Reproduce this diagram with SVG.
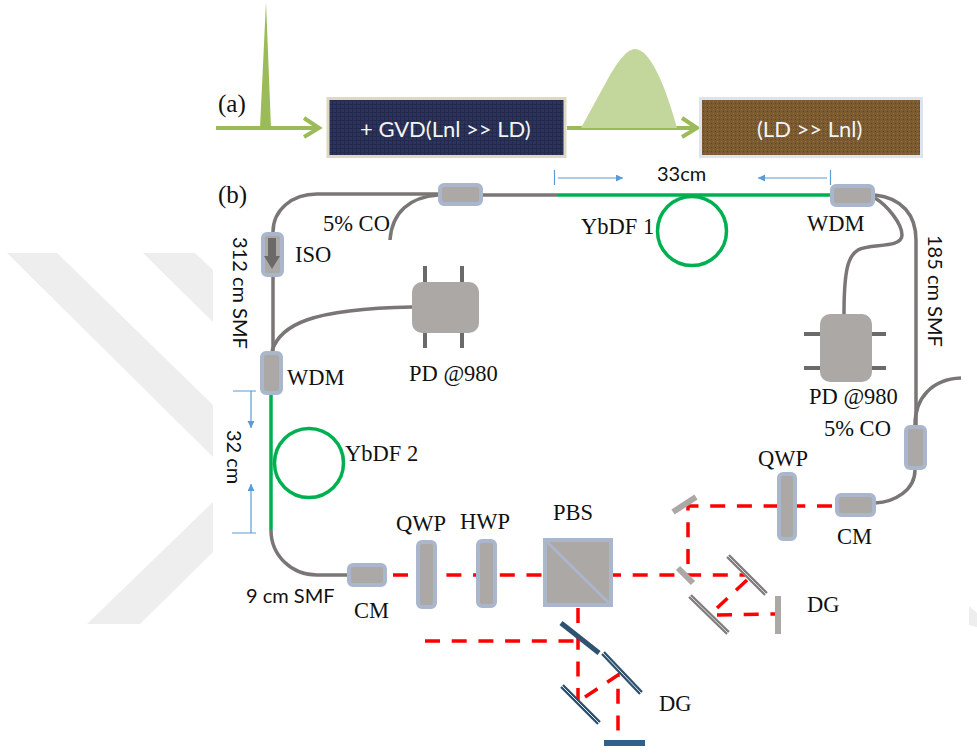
<svg xmlns="http://www.w3.org/2000/svg" width="977" height="753" viewBox="0 0 977 753">
<style>
.t{font-family:"Liberation Serif",serif;font-size:22.5px;fill:#111}
.l{font-family:"Liberation Serif",serif;font-size:25px;fill:#111}
.s{font-family:"Lato","Liberation Sans",sans-serif;font-size:20px;fill:#111}
.w{font-family:"Lato","Liberation Sans",sans-serif;font-size:22px;fill:#f4f4f4}
.f{fill:none;stroke:#7b7676;stroke-width:3.5}
.g{fill:none;stroke:#00b050;stroke-width:3.5}
.r{fill:none;stroke:#fe0000;stroke-width:3.5;stroke-dasharray:15 11.700}
.b{fill:none;stroke:#5b9bd5;stroke-width:1.2}
.c{fill:#aca8a6;stroke:#a9b6cc;stroke-width:4}
.p{fill:none;stroke:#6c6a69;stroke-width:4}
.m{fill:#aca8a6}
.d{stroke:#2f5270;stroke-width:5;fill:none}
.a{fill:none;stroke:#9bbb59;stroke-width:4}
</style>
<defs>
<marker id="ba" markerWidth="8" markerHeight="8" refX="7" refY="3.500" orient="auto" markerUnits="userSpaceOnUse"><path d="M0 0L7 3.500L0 7z" fill="#5b9bd5"/></marker>
<pattern id="navy" width="4" height="4" patternUnits="userSpaceOnUse"><rect width="4" height="4" fill="#2c335c"/><path d="M0 .5H4M.5 0V4" stroke="#232a4c" stroke-width="1"/></pattern>
<pattern id="brown" width="4" height="4" patternUnits="userSpaceOnUse"><rect width="4" height="4" fill="#7a5a30"/><rect width="1" height="1" x="1" y="1" fill="#a0752f"/><rect width="1" height="1" x="3" y="3" fill="#5f4526"/></pattern>
</defs>
<g id="watermark" fill="#eeeeee">
<path d="M7 253L57 253L213 405V457z"/>
<path d="M143 253H195L213 270V322z"/>
<path d="M87 624H140L213 552V502z"/>
<path d="M969 606L977 613V627L969 625z"/>
</g>
<g id="connectors">
<path class="a" d="M216 128H318M304 118L319 128L304 137M567 128H697M682 118L697 128L682 137"/>
<path class="f" d="M438 194H317C292 194 273 210 273 232"/>
<path class="f" d="M438 195C410 197 392 212 390 240"/>
<path class="f" d="M483 195H558"/>
<path class="g" d="M558 195H830"/>
<circle class="g" cx="692" cy="231" r="34.500"/>
<path class="f" d="M875 195C902 198 916 215 916 240V425"/>
<path class="f" d="M875 198C888 206 902 224 902 235C902 249 870 243 858 250C848 256 844 270 844 315"/>
<path class="f" d="M915 425C915 398 932 379 961 378"/>
<path class="f" d="M915 470C915 490 895 502 875 503"/>
<path class="f" d="M273 276V351"/>
<path class="f" d="M272 351C280 325 310 309 412 307"/>
<path class="g" d="M271 395V530"/>
<circle class="g" cx="309" cy="463" r="34.500"/>
<path class="f" d="M271 530C271 556 292 575 317 575H347"/>
<path class="r" d="M393 575H543M606 575H745"/>
<path class="r" d="M832 506H688V575"/>
<path class="r" d="M747 580L717 608M717 615L775 614"/>
<path class="r" d="M578 608V700M425 641H578M585 697L618 675V742"/>
<path class="b" d="M554.500 170V185M830.500 170V185M233 391H256M232 533H256"/>
<path class="b" marker-end="url(#ba)" d="M558 178H623"/>
<path class="b" marker-end="url(#ba)" d="M827 178H758"/>
<path class="b" marker-end="url(#ba)" d="M251 391V428"/>
<path class="b" marker-end="url(#ba)" d="M251 533V484"/>
</g>
<g id="pulse1"><path fill="#9bbb59" d="M266 2L271 128H260z"/></g>
<g id="pulse2"><path fill="#c3d69b" d="M581 128L610 75C620 58 628 49 635 49C650 49 665 85 677 128z"/></g>
<g id="gvd"><rect x="328" y="98.500" width="237" height="58" fill="url(#navy)" stroke="#ddd8c2" stroke-width="3"/><text class="w" x="360" y="137">+ GVD(Lnl &gt;&gt; LD)</text></g>
<g id="ld"><rect x="700.500" y="98.500" width="221" height="58" fill="url(#brown)" stroke="#dce4f0" stroke-width="3"/><text class="w" x="757" y="137">(LD &gt;&gt; Lnl)</text></g>
<g id="co1"><rect class="c" x="440" y="185" width="41" height="19" rx="4"/></g>
<g id="wdm1"><rect class="c" x="832" y="186" width="41" height="19" rx="4"/></g>
<g id="iso"><rect class="c" x="263" y="234" width="19" height="41" rx="4"/><path fill="#6c6a69" d="M268 238H276V256H280L272 269L264 256H268z"/></g>
<g id="wdm2"><rect class="c" x="262" y="353" width="19" height="40" rx="4"/></g>
<g id="pd1"><path class="p" d="M425 266V282M462 266V282M425 333V348M462 333V348"/><rect class="m" x="412" y="282" width="67" height="51" rx="10"/></g>
<g id="pd2"><path class="p" d="M804 334H820M804 368H820M872 334H886M872 368H886"/><rect class="m" x="820" y="314" width="52" height="68" rx="10"/></g>
<g id="co2"><rect class="c" x="906" y="427" width="19" height="41" rx="4"/></g>
<g id="cm2"><rect class="c" x="837" y="495" width="37" height="20" rx="4"/></g>
<g id="qwp2"><rect class="c" x="779" y="474" width="16" height="65" rx="4"/></g>
<g id="cm1"><rect class="c" x="349" y="565" width="36" height="20" rx="4"/></g>
<g id="qwp1"><rect class="c" x="418" y="542" width="17" height="65" rx="4"/></g>
<g id="hwp"><rect class="c" x="478" y="541" width="17" height="65" rx="4"/></g>
<g id="pbs"><rect class="c" x="545" y="540" width="66" height="65"/><path d="M545 540L611 605" stroke="#a9b6cc" stroke-width="3"/></g>
<g id="mirrors">
<path stroke="#aca8a6" stroke-width="6" d="M673 512L696 497M678 568L693 583M778 596V634"/>
<path stroke="#807e7d" stroke-width="5" d="M728 556L766 594M690 596L728 633"/>
<path stroke="#dddddd" stroke-width="1" d="M728 556L766 594M690 596L728 633"/>
</g>
<g id="gratings">
<path class="d" d="M561 623L599 653M603 653L641 693M562 686L599 723"/>
<path stroke="#dfe6ec" stroke-width="1" d="M603 653L641 693M562 686L599 723"/>
<path d="M604 743H645" stroke="#2f5f8a" stroke-width="6"/>
</g>
<g id="labels">
<text class="l" x="218" y="112">(a)</text>
<text class="l" x="218" y="203">(b)</text>
<text class="t" x="323" y="231">5% CO</text>
<text class="t" x="581" y="234">YbDF 1</text>
<text class="t" x="807" y="231">WDM</text>
<text class="t" x="295" y="262">ISO</text>
<text class="t" x="287" y="385">WDM</text>
<text class="t" x="345" y="461">YbDF 2</text>
<text class="t" x="409" y="381">PD @980</text>
<text class="t" x="809" y="404">PD @980</text>
<text class="t" x="824" y="436">5% CO</text>
<text class="t" x="758" y="466">QWP</text>
<text class="t" x="837" y="544">CM</text>
<text class="t" x="354" y="618">CM</text>
<text class="t" x="396" y="531">QWP</text>
<text class="t" x="460" y="529">HWP</text>
<text class="t" x="553" y="520">PBS</text>
<text class="t" x="807" y="612">DG</text>
<text class="t" x="659" y="711">DG</text>
<text class="s" x="657" y="181">33cm</text>
<text class="s" x="246" y="603">9 cm SMF</text>
<text class="s" transform="translate(928 235) rotate(90)">185 cm SMF</text>
<text class="s" transform="translate(233 237) rotate(90)">312 cm SMF</text>
<text class="s" transform="translate(227 430) rotate(90)">32 cm</text>
</g>
</svg>
